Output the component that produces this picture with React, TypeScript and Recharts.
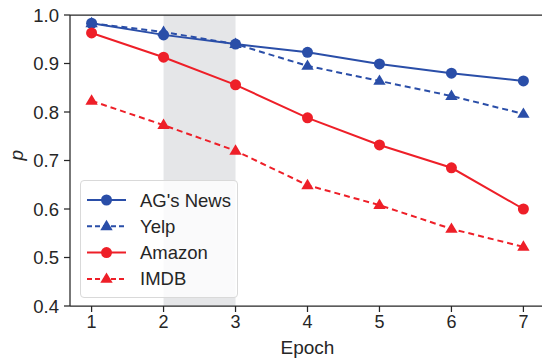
import { LineChart, Line, XAxis, YAxis, ReferenceArea, ReferenceLine } from "recharts";

const epochs = [1, 2, 3, 4, 5, 6, 7];
const agNews = [0.983, 0.959, 0.94, 0.923, 0.899, 0.88, 0.864];
const yelp = [0.983, 0.965, 0.94, 0.895, 0.864, 0.833, 0.796];
const amazon = [0.963, 0.913, 0.856, 0.788, 0.732, 0.685, 0.6];
const imdb = [0.823, 0.773, 0.72, 0.649, 0.608, 0.559, 0.522];
const yTicks = [0.4, 0.5, 0.6, 0.7, 0.8, 0.9, 1.0];

const BLUE = "#2a4ea8";
const RED = "#ee1f28";
const INK = "#262626";
const FONT = "'Liberation Sans', Arial, sans-serif";

const data = epochs.map((e, i) => ({
  epoch: e,
  ag: agNews[i],
  yelp: yelp[i],
  amazon: amazon[i],
  imdb: imdb[i],
}));

const series = [
  { key: "ag", name: "AG's News", color: BLUE, dash: undefined, shape: "circle" },
  { key: "yelp", name: "Yelp", color: BLUE, dash: "6 4", shape: "tri" },
  { key: "amazon", name: "Amazon", color: RED, dash: undefined, shape: "circle" },
  { key: "imdb", name: "IMDB", color: RED, dash: "6 4", shape: "tri" },
];

function Marker({ cx, cy, color, shape }: any) {
  if (cx == null || cy == null) return null;
  if (shape === "tri") {
    const r = 6.5;
    return (
      <polygon
        points={`${cx},${cy - r} ${cx - r * 0.95},${cy + r * 0.6} ${cx + r * 0.95},${cy + r * 0.6}`}
        fill={color}
      />
    );
  }
  return <circle cx={cx} cy={cy} r={5.5} fill={color} />;
}

function LegendBox() {
  return (
    <div
      style={{
        position: "absolute",
        left: 80,
        top: 180,
        width: 158,
        height: 118,
        background: "rgba(255,255,255,0.8)",
        border: "1px solid #d9d9d9",
        borderRadius: 4,
        boxSizing: "border-box",
      }}
    >
      <svg width={156} height={116} style={{ display: "block" }}>
        {series.map((s, i) => {
          const y = 19 + i * 26.3;
          return (
            <g key={s.key}>
              <line x1={6} x2={45} y1={y} y2={y} stroke={s.color} strokeWidth={2} strokeDasharray={s.dash ? "5 3" : undefined} />
              <Marker cx={25.5} cy={y} color={s.color} shape={s.shape} />
              <text x={59} y={y + 6.5} fontSize={18.5} fill={INK} fontFamily={FONT}>
                {s.name}
              </text>
            </g>
          );
        })}
      </svg>
    </div>
  );
}

export default function App() {
  return (
    <div style={{ position: "absolute", left: 0, top: 0, width: 542, height: 358, overflow: "hidden", background: "#fff" }}>
      <LineChart width={545} height={358} data={data} margin={{ top: 15, right: 0, left: 0, bottom: 0 }}>
        <ReferenceArea x1={2} x2={3} y1={0.4} y2={1.0} fill="#e5e6e8" fillOpacity={1} stroke="none" />
        <XAxis
          dataKey="epoch"
          type="number"
          domain={[0.7, 7.3]}
          ticks={epochs}
          height={52}
          stroke={INK}
          strokeWidth={1.25}
          tickSize={6}
          tickMargin={3}
          tick={{ fill: INK, fontSize: 18, fontFamily: FONT }}
          label={{ value: "Epoch", position: "insideBottom", offset: 0, dy: -4, fill: INK, fontSize: 19, fontFamily: FONT }}
        />
        <YAxis
          type="number"
          domain={[0.4, 1.0]}
          ticks={yTicks}
          width={70}
          stroke={INK}
          strokeWidth={1.25}
          tickSize={6}
          tickMargin={5}
          tickFormatter={(v: number) => v.toFixed(1)}
          tick={{ fill: INK, fontSize: 18.5, fontFamily: FONT }}
          label={{ value: "p", angle: -90, position: "insideLeft", offset: 16, fill: INK, fontSize: 19, fontStyle: "italic", fontFamily: FONT }}
        />
        <ReferenceLine y={1.0} stroke={INK} strokeWidth={1.25} />
        {series.map((s) => (
          <Line
            key={s.key}
            dataKey={s.key}
            name={s.name}
            stroke={s.color}
            strokeWidth={2}
            strokeDasharray={s.dash}
            dot={(p: any) => <Marker key={`${s.key}-${p.index}`} cx={p.cx} cy={p.cy} color={s.color} shape={s.shape} />}
            activeDot={false}
            isAnimationActive={false}
          />
        ))}
      </LineChart>
      <LegendBox />
    </div>
  );
}
